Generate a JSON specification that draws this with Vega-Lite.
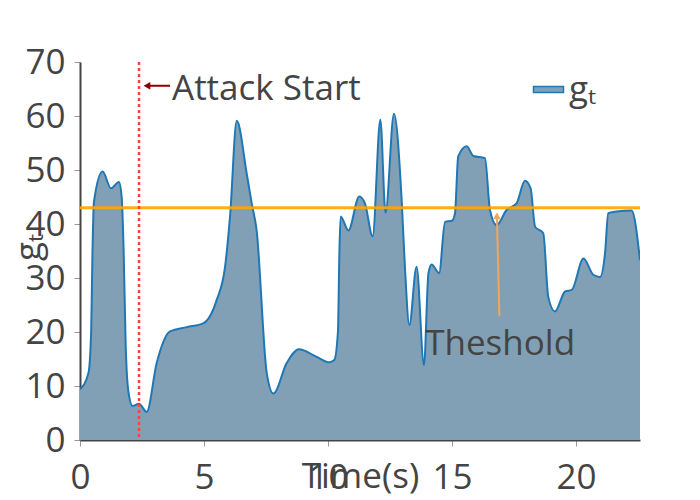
{
  "$schema": "https://vega.github.io/schema/vega-lite/v6.json",
  "autosize": {"type": "none"},
  "width": 560,
  "height": 378,
  "padding": {"left": 80, "top": 62, "right": 60, "bottom": 60},
  "background": "white",
  "config": {"view": {"stroke": null}, "font": "Open Sans"},
  "datasets": {
    "series": [
      {"t": 0, "v": 9.4, "s": "gₜ"}, {"t": 0.34, "v": 12.4, "s": "gₜ"}, {"t": 0.45, "v": 20, "s": "gₜ"}, {"t": 0.5, "v": 34, "s": "gₜ"},
      {"t": 0.56, "v": 44, "s": "gₜ"}, {"t": 0.91, "v": 49.7, "s": "gₜ"}, {"t": 1.25, "v": 46.6, "s": "gₜ"}, {"t": 1.57, "v": 47.8, "s": "gₜ"},
      {"t": 1.68, "v": 45, "s": "gₜ"}, {"t": 1.76, "v": 35, "s": "gₜ"}, {"t": 1.84, "v": 18, "s": "gₜ"}, {"t": 1.95, "v": 9, "s": "gₜ"},
      {"t": 2.12, "v": 6.3, "s": "gₜ"}, {"t": 2.38, "v": 6.7, "s": "gₜ"}, {"t": 2.69, "v": 5.2, "s": "gₜ"}, {"t": 3.09, "v": 14.2, "s": "gₜ"},
      {"t": 3.63, "v": 20.1, "s": "gₜ"}, {"t": 4.3, "v": 20.9, "s": "gₜ"}, {"t": 4.97, "v": 21.6, "s": "gₜ"}, {"t": 5.51, "v": 25.9, "s": "gₜ"},
      {"t": 5.85, "v": 32.1, "s": "gₜ"}, {"t": 6.05, "v": 41.4, "s": "gₜ"}, {"t": 6.32, "v": 59.1, "s": "gₜ"}, {"t": 6.72, "v": 49.4, "s": "gₜ"},
      {"t": 6.92, "v": 43.9, "s": "gₜ"}, {"t": 7.12, "v": 38.9, "s": "gₜ"}, {"t": 7.53, "v": 12.4, "s": "gₜ"}, {"t": 7.8, "v": 8.6, "s": "gₜ"},
      {"t": 8.33, "v": 14.2, "s": "gₜ"}, {"t": 8.83, "v": 16.8, "s": "gₜ"}, {"t": 9.54, "v": 15.4, "s": "gₜ"}, {"t": 10.05, "v": 14.4, "s": "gₜ"},
      {"t": 10.25, "v": 14.8, "s": "gₜ"}, {"t": 10.4, "v": 20, "s": "gₜ"}, {"t": 10.46, "v": 35, "s": "gₜ"}, {"t": 10.51, "v": 41.4, "s": "gₜ"},
      {"t": 10.82, "v": 38.8, "s": "gₜ"}, {"t": 11.26, "v": 45.1, "s": "gₜ"}, {"t": 11.49, "v": 43.8, "s": "gₜ"}, {"t": 11.8, "v": 37.7, "s": "gₜ"},
      {"t": 12.11, "v": 59.3, "s": "gₜ"}, {"t": 12.32, "v": 42.1, "s": "gₜ"}, {"t": 12.66, "v": 60.4, "s": "gₜ"}, {"t": 12.97, "v": 44.4, "s": "gₜ"},
      {"t": 13.1, "v": 32.1, "s": "gₜ"}, {"t": 13.28, "v": 21.3, "s": "gₜ"}, {"t": 13.57, "v": 32.1, "s": "gₜ"}, {"t": 13.87, "v": 13.9, "s": "gₜ"},
      {"t": 14.05, "v": 30.9, "s": "gₜ"}, {"t": 14.18, "v": 32.5, "s": "gₜ"}, {"t": 14.48, "v": 30.9, "s": "gₜ"}, {"t": 14.72, "v": 40.4, "s": "gₜ"},
      {"t": 15.0, "v": 40.6, "s": "gₜ"}, {"t": 15.12, "v": 42, "s": "gₜ"}, {"t": 15.25, "v": 52.5, "s": "gₜ"}, {"t": 15.59, "v": 54.4, "s": "gₜ"},
      {"t": 15.86, "v": 52.6, "s": "gₜ"}, {"t": 16.33, "v": 52.2, "s": "gₜ"}, {"t": 16.53, "v": 42.6, "s": "gₜ"}, {"t": 16.8, "v": 39.8, "s": "gₜ"},
      {"t": 17.2, "v": 42.6, "s": "gₜ"}, {"t": 17.6, "v": 43.8, "s": "gₜ"}, {"t": 17.94, "v": 48, "s": "gₜ"}, {"t": 18.17, "v": 46.6, "s": "gₜ"},
      {"t": 18.35, "v": 39.5, "s": "gₜ"}, {"t": 18.68, "v": 38.3, "s": "gₜ"}, {"t": 18.88, "v": 26.5, "s": "gₜ"}, {"t": 19.15, "v": 23.8, "s": "gₜ"},
      {"t": 19.56, "v": 27.5, "s": "gₜ"}, {"t": 19.83, "v": 27.8, "s": "gₜ"}, {"t": 20.3, "v": 33.6, "s": "gₜ"}, {"t": 20.7, "v": 30.6, "s": "gₜ"},
      {"t": 20.97, "v": 30.2, "s": "gₜ"}, {"t": 21.17, "v": 34.6, "s": "gₜ"}, {"t": 21.3, "v": 42, "s": "gₜ"}, {"t": 21.64, "v": 42.3, "s": "gₜ"},
      {"t": 22.24, "v": 42.5, "s": "gₜ"}, {"t": 22.58, "v": 33.3, "s": "gₜ"}
    ],
    "attack": [{"t": 2.38}],
    "threshold": [{"v": 43}],
    "attackArrow": [{"t1": 2.7, "v1": 65.6, "t2": 3.63, "v2": 65.6, "label": "Attack Start", "lt": 3.71, "lv": 63.0}],
    "threshArrow": [{"t1": 16.91, "v1": 23.0, "t2": 16.81, "v2": 41.5, "label": "Theshold", "lt": 16.94, "lv": 15.7}]
  },
  "layer": [
    {
      "data": {"name": "series"},
      "mark": {"type": "area", "interpolate": "monotone", "clip": true, "opacity": 1},
      "encoding": {
        "x": {"field": "t", "type": "quantitative",
              "scale": {"domain": [0, 22.58], "nice": false, "zero": false},
              "axis": {"values": [0, 5, 10, 15, 20], "title": "Time(s)", "grid": false, "labelFlush": false,
                       "domainColor": "#444", "domainWidth": 2, "tickColor": "#999", "tickSize": 6,
                       "labelFontSize": 35, "labelColor": "#444", "labelBaseline": "alphabetic", "labelPadding": 42,
                       "labelFont": "Open Sans",
                       "titleFontSize": 35, "titleColor": "#444", "titleFontWeight": "normal", "titleFont": "Open Sans",
                       "titleBaseline": "alphabetic", "titleY": 47, "titleX": 280, "titleAlign": "center"}},
        "y": {"field": "v", "type": "quantitative",
              "scale": {"domain": [0, 70], "nice": false},
              "axis": {"values": [0, 10, 20, 30, 40, 50, 60, 70], "title": "gₜ", "grid": false, "labelFlush": false,
                       "domainColor": "#444", "domainWidth": 2, "tickColor": "#999", "tickSize": 6,
                       "labelFontSize": 35, "labelColor": "#444", "labelPadding": 9, "labelFont": "Open Sans",
                       "titleFontSize": 35, "titleColor": "#444", "titleFontWeight": "normal", "titleFont": "Open Sans",
                       "titleBaseline": "alphabetic", "titleX": -41, "titleY": 185, "titleAlign": "center", "titleAngle": -90}},
        "color": {"field": "s", "type": "nominal",
                  "scale": {"range": ["#81a0b6"]},
                  "legend": {"title": null, "orient": "none", "legendX": 451, "legendY": 10, "padding": 0,
                             "symbolType": "M-1,-0.2L1,-0.2L1,0.2L-1,0.2Z", "symbolSize": 900,
                             "symbolStrokeColor": "#1f77b4", "symbolStrokeWidth": 1.5, "symbolOpacity": 1,
                             "labelFontSize": 35, "labelColor": "#444", "labelFont": "Open Sans", "labelOffset": 3}}
      }
    },
    {
      "data": {"name": "series"},
      "mark": {"type": "line", "interpolate": "monotone", "clip": true, "color": "#1f77b4", "strokeWidth": 2},
      "encoding": {"x": {"field": "t", "type": "quantitative"}, "y": {"field": "v", "type": "quantitative"}}
    },
    {
      "data": {"name": "threshold"},
      "mark": {"type": "rule", "color": "#ffa500", "strokeWidth": 3, "opacity": 0.9},
      "encoding": {"y": {"field": "v", "type": "quantitative"}}
    },
    {
      "data": {"name": "attack"},
      "mark": {"type": "rule", "color": "#ff4136", "strokeWidth": 2.5, "strokeDash": [3, 3]},
      "encoding": {"x": {"field": "t", "type": "quantitative"}}
    },
    {
      "data": {"name": "attackArrow"},
      "mark": {"type": "rule", "color": "#8b0000", "strokeWidth": 2},
      "encoding": {"x": {"field": "t1", "type": "quantitative"}, "y": {"field": "v1", "type": "quantitative"},
                   "x2": {"field": "t2"}, "y2": {"field": "v2"}}
    },
    {
      "data": {"name": "attackArrow"},
      "mark": {"type": "point", "shape": "triangle-left", "filled": true, "color": "#8b0000", "size": 60, "opacity": 1},
      "encoding": {"x": {"field": "t1", "type": "quantitative"}, "y": {"field": "v1", "type": "quantitative"}}
    },
    {
      "data": {"name": "attackArrow"},
      "mark": {"type": "text", "align": "left", "baseline": "alphabetic", "fontSize": 35, "color": "#444", "font": "Open Sans"},
      "encoding": {"x": {"field": "lt", "type": "quantitative"}, "y": {"field": "lv", "type": "quantitative"}, "text": {"field": "label"}}
    },
    {
      "data": {"name": "threshArrow"},
      "mark": {"type": "rule", "color": "#f2a65a", "strokeWidth": 2},
      "encoding": {"x": {"field": "t1", "type": "quantitative"}, "y": {"field": "v1", "type": "quantitative"},
                   "x2": {"field": "t2"}, "y2": {"field": "v2"}}
    },
    {
      "data": {"name": "threshArrow"},
      "mark": {"type": "point", "shape": "triangle-up", "filled": true, "color": "#f2a65a", "size": 60, "opacity": 1},
      "encoding": {"x": {"field": "t2", "type": "quantitative"}, "y": {"field": "v2", "type": "quantitative"}}
    },
    {
      "data": {"name": "threshArrow"},
      "mark": {"type": "text", "align": "center", "baseline": "alphabetic", "fontSize": 35, "color": "#444", "font": "Open Sans"},
      "encoding": {"x": {"field": "lt", "type": "quantitative"}, "y": {"field": "lv", "type": "quantitative"}, "text": {"field": "label"}}
    }
  ]
}
